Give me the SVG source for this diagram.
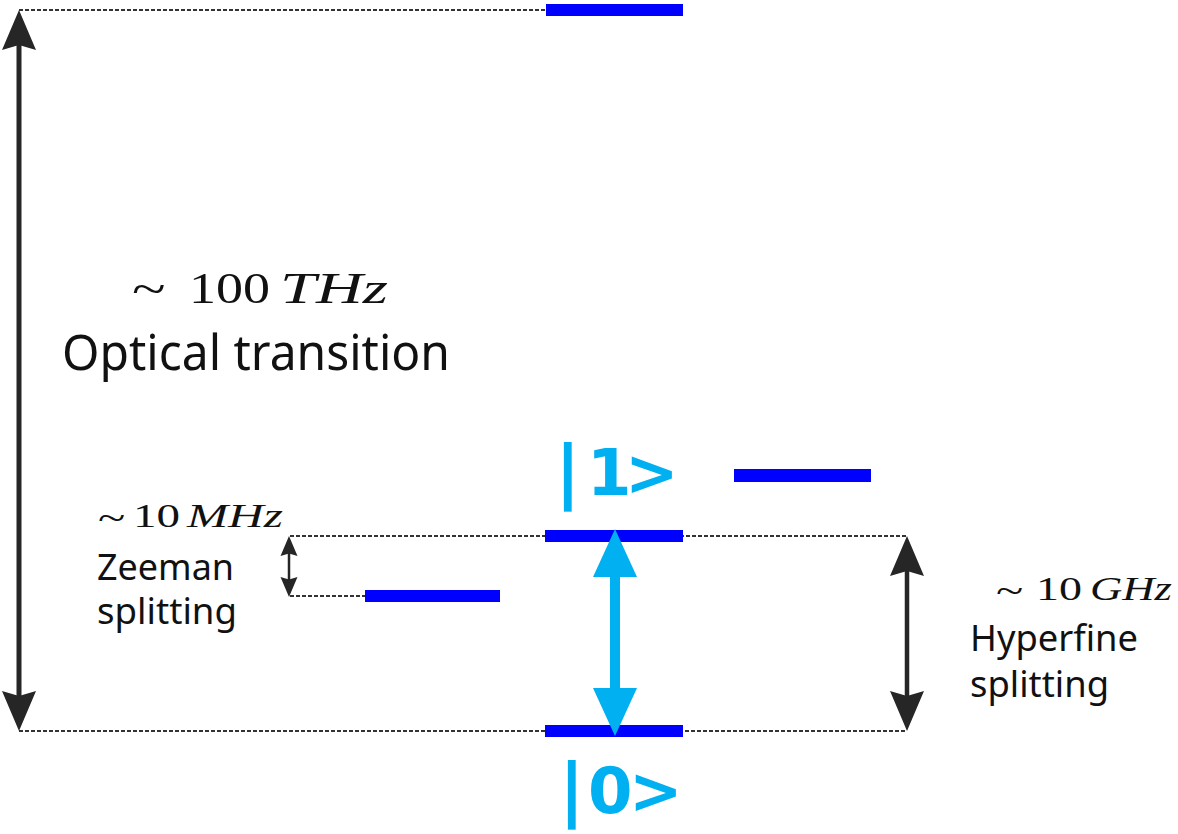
<svg xmlns="http://www.w3.org/2000/svg" width="1178" height="834" viewBox="0 0 1178 834">
<style>
.guide{stroke:#333;stroke-width:2;stroke-dasharray:4 2;fill:none}
.bar{fill:#0000ff}
.dark{stroke:#262626;fill:none}
.cyan{stroke:#00b0f0;fill:none}
.lbl{font-family:"Noto Sans","Open Sans",sans-serif;fill:#111}
.math{font-family:"Liberation Serif","DejaVu Serif",serif;fill:#111}
.it{font-style:italic}
.ket{font-family:"DejaVu Sans",sans-serif;font-weight:bold;fill:#00b0f0}
</style>
<defs>
<marker id="hd" viewBox="0 -17 40 34" refX="20" refY="0" markerWidth="40" markerHeight="34" markerUnits="userSpaceOnUse" orient="auto-start-reverse"><path d="M0,-17 L40,0 L0,17 L5,0 Z" fill="#262626"/></marker>
<marker id="hs" viewBox="0 -9 20 18" refX="10" refY="0" markerWidth="20" markerHeight="18" markerUnits="userSpaceOnUse" orient="auto-start-reverse"><path d="M0,-8.5 L20,0 L0,8.5 L2.5,0 Z" fill="#262626"/></marker>
<marker id="hc" viewBox="0 -22 48 44" refX="24" refY="0" markerWidth="48" markerHeight="44" markerUnits="userSpaceOnUse" orient="auto-start-reverse"><path d="M0,-22 L48,0 L0,22 Z" fill="#00b0f0"/></marker>
</defs>
<rect width="1178" height="834" fill="#fff"/>
<g id="guides">
<line class="guide" x1="19" y1="10" x2="547" y2="10"/>
<line class="guide" x1="290" y1="536" x2="907" y2="536"/>
<line class="guide" x1="290" y1="596" x2="365" y2="596"/>
<line class="guide" x1="19" y1="731" x2="907" y2="731"/>
</g>
<g id="level-top"><rect class="bar" x="546" y="4" width="137" height="12"/></g>
<g id="level-1"><rect class="bar" x="545" y="530" width="138" height="12"/></g>
<g id="level-0"><rect class="bar" x="545" y="725" width="138" height="12"/></g>
<g id="level-zeeman"><rect class="bar" x="365" y="590" width="135" height="12"/></g>
<g id="level-upper"><rect class="bar" x="734" y="469" width="137" height="13"/></g>
<g id="connectors">
<line class="dark" x1="19" y1="30" x2="19" y2="711" stroke-width="5" marker-start="url(#hd)" marker-end="url(#hd)"/>
<line class="dark" x1="907" y1="556" x2="907" y2="711" stroke-width="4.5" marker-start="url(#hd)" marker-end="url(#hd)"/>
<line class="dark" x1="289" y1="546" x2="289" y2="587" stroke-width="2.5" marker-start="url(#hs)" marker-end="url(#hs)"/>
<line class="cyan" x1="615" y1="553" x2="615" y2="712" stroke-width="10" marker-start="url(#hc)" marker-end="url(#hc)"/>
</g>
<g id="label-optical">
<text class="math" font-size="46" transform="translate(132,304) scale(1.35,1)">~</text>
<text class="math" font-size="44"><tspan x="189" y="303" textLength="81" lengthAdjust="spacingAndGlyphs">100</tspan><tspan class="it" x="280" y="303" textLength="108" lengthAdjust="spacingAndGlyphs">THz</tspan></text>
<text class="lbl" x="62" y="370" font-size="49" textLength="388" lengthAdjust="spacingAndGlyphs">Optical transition</text>
</g>
<g id="label-zeeman">
<text class="math" font-size="36" transform="translate(98,530) scale(1.4,1)">~</text>
<text class="math" font-size="33"><tspan x="133" y="527" textLength="47" lengthAdjust="spacingAndGlyphs">10</tspan><tspan class="it" x="187" y="527" textLength="96" lengthAdjust="spacingAndGlyphs">MHz</tspan></text>
<text class="lbl" x="97" y="580" font-size="37" textLength="137" lengthAdjust="spacingAndGlyphs">Zeeman</text>
<text class="lbl" x="97" y="624" font-size="37" textLength="140" lengthAdjust="spacingAndGlyphs">splitting</text>
</g>
<g id="label-hyperfine">
<text class="math" font-size="36" transform="translate(996,603) scale(1.4,1)">~</text>
<text class="math" font-size="33"><tspan x="1036" y="600" textLength="46" lengthAdjust="spacingAndGlyphs">10</tspan><tspan class="it" x="1090" y="600" textLength="82" lengthAdjust="spacingAndGlyphs">GHz</tspan></text>
<text class="lbl" x="970" y="651" font-size="37" textLength="168" lengthAdjust="spacingAndGlyphs">Hyperfine</text>
<text class="lbl" x="970" y="697" font-size="37" textLength="139" lengthAdjust="spacingAndGlyphs">splitting</text>
</g>
<g id="ket-1">
<text class="ket" y="495"><tspan x="555" font-size="70">|</tspan><tspan x="587" font-size="64">1</tspan><tspan x="625" font-size="64">&gt;</tspan></text>
</g>
<g id="ket-0">
<text class="ket" y="813"><tspan x="559" font-size="70">|</tspan><tspan x="588" font-size="64">0</tspan><tspan x="629" font-size="64">&gt;</tspan></text>
</g>
</svg>
